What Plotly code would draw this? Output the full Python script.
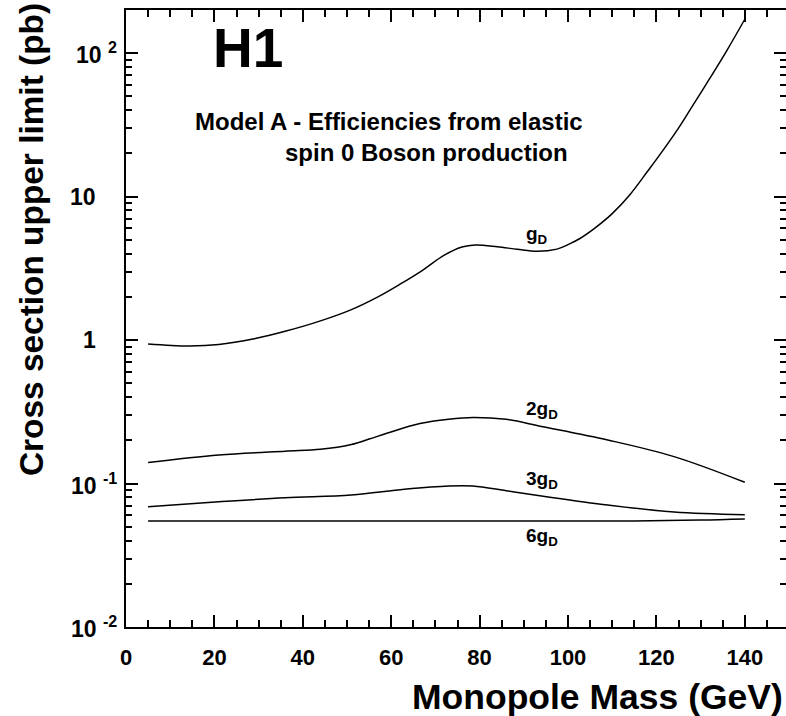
import math
import plotly.graph_objects as go

# ---------------- data ----------------
mass_gD = [5, 14, 21, 29, 36, 44, 51, 57, 62, 67, 72, 76, 79, 84, 88.5, 93, 97.5, 100, 102.7, 106, 110,
           114, 118, 121, 125, 128, 132, 136, 140]
xsec_gD = [0.94, 0.91, 0.93, 1.02, 1.15, 1.36, 1.63, 2.0, 2.45, 3.05, 3.9, 4.45, 4.6, 4.47, 4.29, 4.15,
           4.3, 4.62, 5.1, 6.0, 7.6, 10.3, 15.0, 20.0, 30.0, 42.0, 66.0, 105.0, 172.0]

mass_2gD = [5, 21, 36, 44, 51, 55, 59, 66.5, 73, 78.5, 86, 94, 109, 124, 140]
xsec_2gD = [0.140, 0.158, 0.168, 0.173, 0.187, 0.204, 0.224, 0.262, 0.281, 0.289, 0.280, 0.250, 0.201,
            0.154, 0.102]

mass_3gD = [5, 21, 36, 51, 63, 73, 78.5, 86, 94, 109, 124, 140]
xsec_3gD = [0.0689, 0.0746, 0.0796, 0.0832, 0.0912, 0.0961, 0.0960, 0.0891, 0.0819, 0.0708, 0.0633, 0.0606]

mass_6gD = [5, 40, 80, 115, 130, 140]
xsec_6gD = [0.0548, 0.0548, 0.0548, 0.0549, 0.0556, 0.0566]

curve_labels = ["g<sub>D</sub>", "2g<sub>D</sub>", "3g<sub>D</sub>", "6g<sub>D</sub>"]
curve_label_x = [90, 90, 90, 90]
curve_label_y = [5.4, 0.325, 0.1057, 0.0424]

x_tickvals = [0, 20, 40, 60, 80, 100, 120, 140]
x_ticktext = ["0", "20", "40", "60", "80", "100", "120", "140"]
y_tickvals = [0.01, 0.1, 1, 10, 100]
y_tick_base = ["10", "10", "1", "10", "10"]
y_tick_exp = ["-2", "-1", "", "", "2"]
y_minor = [m * 10.0 ** k for k in range(-2, 3) for m in range(2, 10) if m * 10.0 ** k < 199]

x_title = "Monopole Mass (GeV)"
y_title = "Cross section upper limit (pb)"
tag = "H1"
model_line1 = "Model A - Efficiencies from elastic"
model_line2 = "spin 0 Boson production"

# ---------------- layout geometry ----------------
W_FIG, H_FIG = 786, 716
L, T, R, B = 126, 10, 0, 89
PW, PH = W_FIG - L - R, H_FIG - T - B
FONT = "Liberation Sans, Arial, Helvetica, sans-serif"
Y_RANGE = [-2, 2.3]


def px(x):
    return (x - L) / PW


def py(y):
    return (T + PH - y) / PH


fig = go.Figure()
for xs, ys in [(mass_gD, xsec_gD), (mass_2gD, xsec_2gD), (mass_3gD, xsec_3gD), (mass_6gD, xsec_6gD)]:
    fig.add_trace(go.Scatter(x=xs, y=ys, mode="lines",
                             line=dict(color="black", width=1.5, shape="spline", smoothing=1.0),
                             showlegend=False, hoverinfo="skip"))
# invisible trace so the right-hand (tick-only) axis is drawn
fig.add_trace(go.Scatter(x=mass_6gD, y=xsec_6gD, yaxis="y2", mode="lines",
                         line=dict(width=0, color="rgba(0,0,0,0)"), showlegend=False, hoverinfo="skip"))

ann = []
for t, xv, yv in zip(curve_labels, curve_label_x, curve_label_y):
    ann.append(dict(x=xv, y=math.log10(yv), xref="x", yref="y", text="<b>" + t + "</b>",
                    showarrow=False, xanchor="left", yanchor="middle",
                    font=dict(family=FONT, size=19, color="black")))

for v, b, e in zip(y_tickvals, y_tick_base, y_tick_exp):
    if e:
        txt = "<b>" + b + " </b><sup><b>" + e + "</b></sup>"
        xa = px(119)
    else:
        txt = "<b>" + b + "</b>"
        xa = px(98)
    ann.append(dict(x=xa, y=math.log10(v), xref="paper", yref="y", text=txt, showarrow=False,
                    xanchor="right", yanchor="middle",
                    font=dict(family=FONT, size=23, color="black")))

ann.append(dict(x=px(785), y=py(697), xref="paper", yref="paper", text="<b>" + x_title + "</b>",
                showarrow=False, xanchor="right", yanchor="middle",
                font=dict(family=FONT, size=35.5, color="black")))
ann.append(dict(x=px(31), y=py(240), xref="paper", yref="paper", text="<b>" + y_title + "</b>",
                showarrow=False, xanchor="center", yanchor="middle", textangle=-90,
                font=dict(family=FONT, size=33.4, color="black")))
ann.append(dict(x=px(211), y=py(48), xref="paper", yref="paper", text="<b>" + tag + "</b>",
                showarrow=False, xanchor="left", yanchor="middle",
                font=dict(family=FONT, size=55, color="black")))
ann.append(dict(x=px(193), y=py(122), xref="paper", yref="paper", text="<b>" + model_line1 + "</b>",
                showarrow=False, xanchor="left", yanchor="middle",
                font=dict(family=FONT, size=24, color="black")))
ann.append(dict(x=px(283), y=py(153), xref="paper", yref="paper", text="<b>" + model_line2 + "</b>",
                showarrow=False, xanchor="left", yanchor="middle",
                font=dict(family=FONT, size=24, color="black")))

tick_common = dict(ticks="inside", ticklen=12, tickwidth=1.5, tickcolor="black",
                   showgrid=False, zeroline=False)
y_minor_cfg = dict(tickmode="array", tickvals=y_minor, ticks="inside", ticklen=6,
                   tickwidth=1.5, tickcolor="black", showgrid=False)

fig.update_layout(
    width=W_FIG, height=H_FIG,
    margin=dict(l=L, r=R, t=T, b=B, pad=0),
    paper_bgcolor="white", plot_bgcolor="white",
    annotations=ann,
    xaxis=dict(range=[0, PW / 4.42], tickmode="array", tickvals=x_tickvals, ticktext=x_ticktext,
               showline=True, linewidth=2, linecolor="black", mirror="ticks",
               minor=dict(tick0=0, dtick=5, ticks="inside", ticklen=7, tickwidth=1.5,
                          tickcolor="black", showgrid=False),
               tickfont=dict(family=FONT, size=22, color="black", weight="bold"),
               ticklabelstandoff=10, **tick_common),
    yaxis=dict(type="log", range=Y_RANGE, tickmode="array", tickvals=y_tickvals,
               showticklabels=False, showline=True, linewidth=2, linecolor="black", mirror=False,
               minor=y_minor_cfg, **tick_common),
    yaxis2=dict(type="log", range=Y_RANGE, overlaying="y", side="right", anchor="x",
                tickmode="array", tickvals=y_tickvals, showticklabels=False, showline=False,
                minor=y_minor_cfg, **tick_common),
)

fig.write_html("out.html", config={"displayModeBar": False},
               post_script="document.body.style.margin='0';document.body.style.overflow='hidden';")
